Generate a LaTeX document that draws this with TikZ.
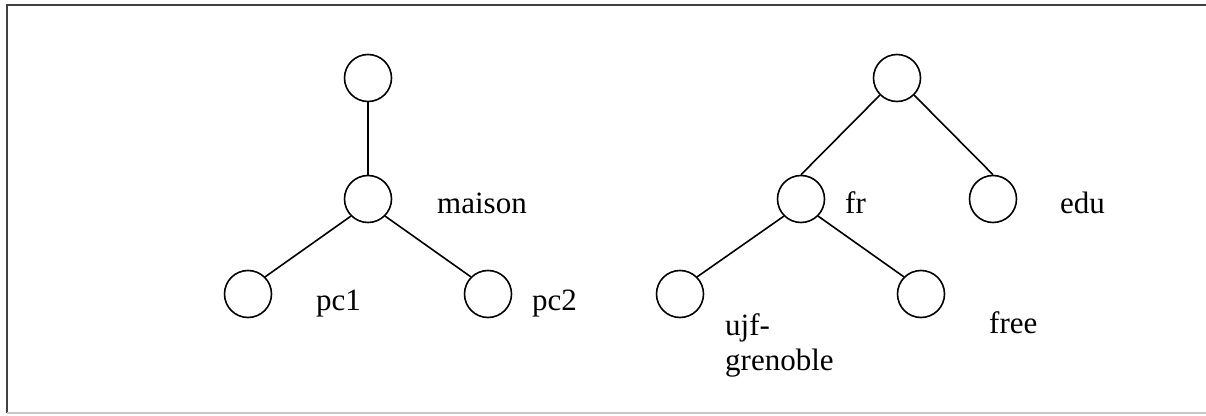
\documentclass[tikz,border=0pt]{standalone}
\usepackage{fontspec}
\setmainfont{Liberation Serif}
\begin{document}
\begin{tikzpicture}[x=1pt,y=1pt,
  nd/.style={circle,draw=black,line width=1.6pt,minimum size=47pt,inner sep=0pt,fill=white},
  lbl/.style={anchor=base west,inner sep=0pt,font=\fontsize{31}{34}\selectfont,align=left},
  edge/.style={draw=black,line width=1.6pt}]
\useasboundingbox (0,0) rectangle (1206,415);
\fill[white] (0,0) rectangle (1206,415);
% frame
\draw[line width=1.5pt,black!75] (7,2) -- (7,410) -- (1206,410);
\draw[line width=1.2pt,black!22] (7,2) -- (1206,2);
% left tree
\node[nd] (r1) at (368,337) {};
\node[nd] (m) at (368,216) {};
\node[nd] (p1) at (248,121) {};
\node[nd] (p2) at (488,121) {};
% right tree
\node[nd] (r2) at (897,337) {};
\node[nd] (fr) at (801,216) {};
\node[nd] (edu) at (993,216) {};
\node[nd] (ujf) at (680,121) {};
\node[nd] (free) at (921,121) {};
\draw[edge] (r1.south) -- (m.north);
\draw[edge] (m.south west) -- (p1.north east);
\draw[edge] (m.south east) -- (p2.north west);
\draw[edge] (r2.south west) -- (fr.north);
\draw[edge] (r2.south east) -- (edu.north);
\draw[edge] (fr.south west) -- (ujf.north east);
\draw[edge] (fr.south east) -- (free.north west);
% labels
\node[lbl] (lm) at (437,201) {maison};
\node[lbl] (lp1) at (316,105) {pc1};
\node[lbl] (lp2) at (532,105) {pc2};
\node[lbl] (lfr) at (845,201) {fr};
\node[lbl] (ledu) at (1060,201) {edu};
\node[lbl] (lujf) at (725,80) {ujf-};
\node[lbl] (lgr) at (725,45) {grenoble};
\node[lbl] (lfree) at (989,82) {free};
\end{tikzpicture}
\end{document}
